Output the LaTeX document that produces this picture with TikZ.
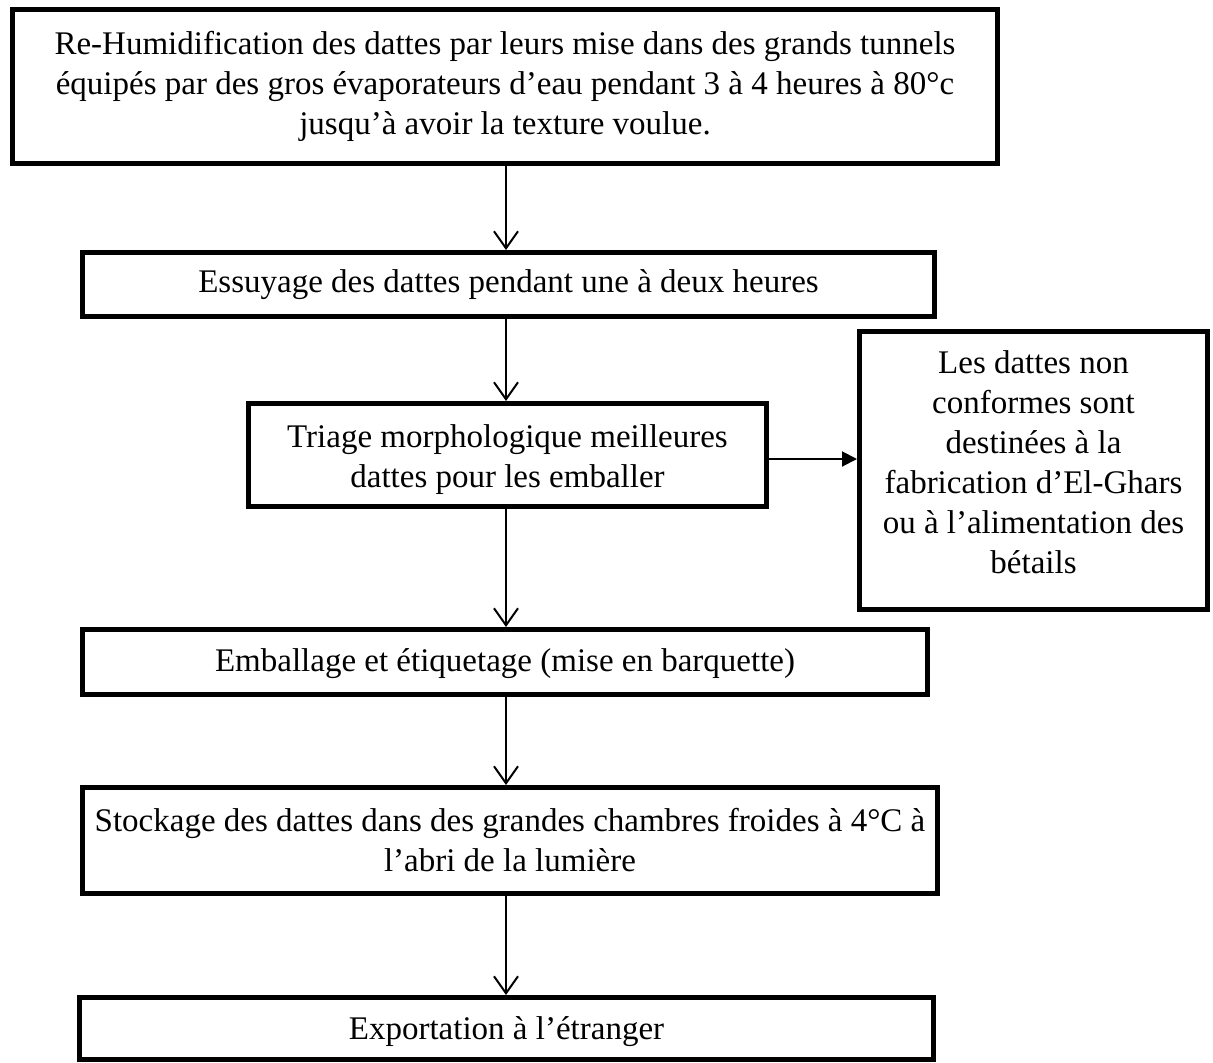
\documentclass[tikz,border=0pt]{standalone}
\usepackage{fontspec}
\setmainfont{Liberation Serif}
\usetikzlibrary{arrows.meta}
\begin{document}
\begin{tikzpicture}[x=1pt,y=-1pt,
  box/.style={draw,line width=5pt,align=center,inner sep=0pt,
    font=\fontsize{33}{40}\selectfont},
  arr/.style={line width=2pt,-{Straight Barb[length=17pt,width=24pt,line width=2pt]}},
  sidearr/.style={line width=2pt,-{Triangle[length=15pt,width=15pt]}}]
\useasboundingbox (0,0) rectangle (1213,1063);
\node[box,minimum width=985pt,minimum height=154pt] (b1) at (505,86.5)
  {Re-Humidification des dattes par leurs mise dans des grands tunnels\\
   équipés par des gros évaporateurs d’eau pendant 3 à 4 heures à 80°c\\
   jusqu’à avoir la texture voulue.};
\node[box,minimum width=852pt,minimum height=64pt] (b2) at (508.5,284.5)
  {Essuyage des dattes pendant une à deux heures};
\node[box,minimum width=518pt,minimum height=103pt] (b3) at (507.5,455)
  {\rule{0pt}{33pt}Triage morphologique meilleures\\dattes pour les emballer};
\node[box,minimum width=348pt,minimum height=278pt] (b4) at (1033.5,470.5)
  {Les dattes non\\conformes sont\\destinées à la\\fabrication d’El-Ghars\\ou à l’alimentation des\\bétails\rule[-16pt]{0pt}{16pt}};
\node[box,minimum width=845pt,minimum height=65pt] (b5) at (505,662)
  {\rule{0pt}{27pt}Emballage et étiquetage (mise en barquette)};
\node[box,minimum width=855pt,minimum height=106pt] (b6) at (510,840.5)
  {Stockage des dattes dans des grandes chambres froides à 4°C à\\l’abri de la lumière};
\node[box,minimum width=854pt,minimum height=62pt] (b7) at (506.5,1028.5)
  {\rule{0pt}{29pt}Exportation à l’étranger};
\coordinate (ax) at (506,0);
\draw[arr] (b1.south -| ax) -- (b2.north -| ax);
\draw[arr] (b2.south -| ax) -- (b3.north -| ax);
\draw[arr] (b3.south -| ax) -- (b5.north -| ax);
\draw[arr] (b5.south -| ax) -- (b6.north -| ax);
\draw[arr] (b6.south -| ax) -- (b7.north -| ax);
\coordinate (sy) at (0,459);
\draw[sidearr] (b3.east |- sy) -- (b4.west |- sy);
\end{tikzpicture}
\end{document}
